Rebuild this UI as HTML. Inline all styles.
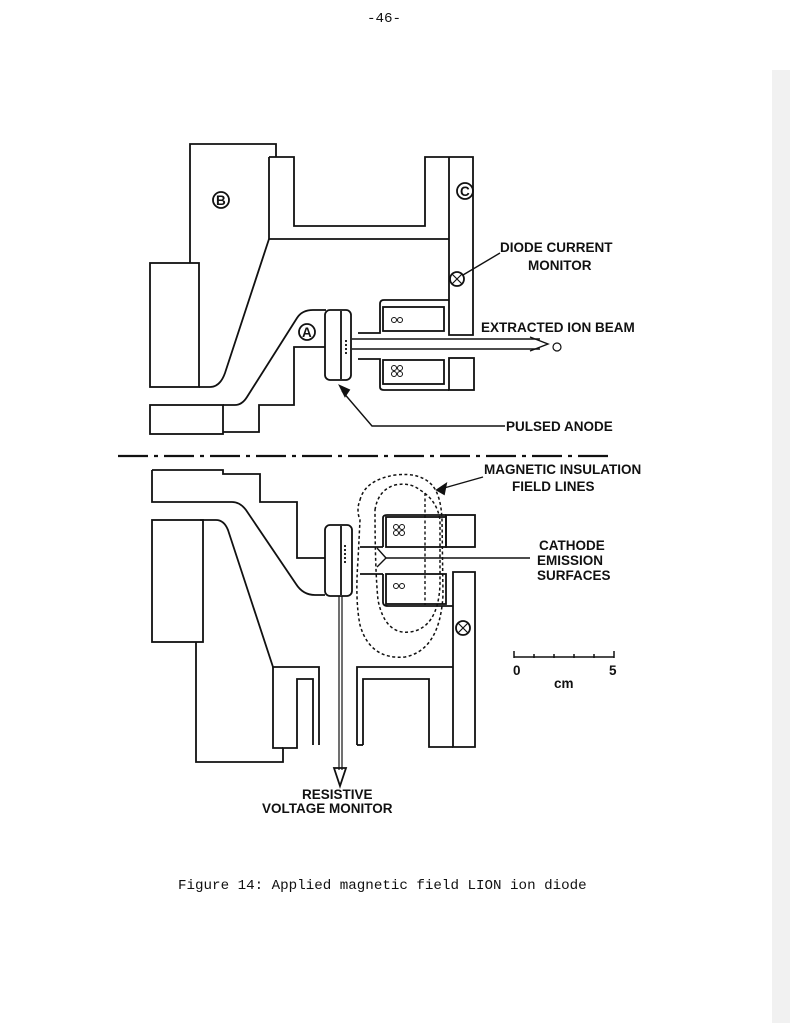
<!DOCTYPE html>
<html><head><meta charset="utf-8"><style>
html,body{margin:0;padding:0;background:#fff;}
svg{display:block;}
.l{font-family:"Liberation Sans",sans-serif;font-weight:bold;font-size:13.5px;fill:#111;}
.m{font-family:"Liberation Mono",monospace;font-size:14.2px;fill:#111;}
</style></head><body>
<svg width="790" height="1023" viewBox="0 0 790 1023" xmlns="http://www.w3.org/2000/svg">
<rect width="790" height="1023" fill="#fff"/>
<rect x="772" y="70" width="18" height="953" fill="#f1f1f1"/>
<text class="m" x="367" y="22">-46-</text>
<g fill="none" stroke="#111" stroke-width="1.8" stroke-linejoin="miter">
<path d="M190,263 V144 H276 V157"/>
<path d="M269,157 H294 V226 H425 V157 H473 V335 H449 V157"/>
<path d="M269,157 V239 H449"/>
<path d="M269,239 L225,373 Q220,387 210,387 H199"/>
<rect x="150" y="263" width="49" height="124"/>
<circle cx="221" cy="200" r="8"/>
<circle cx="465" cy="191" r="8"/>
<circle cx="457" cy="279" r="7"/>
<path d="M452,274 L462,284 M462,274 L452,284" stroke-width="1.2"/>
<rect x="150" y="405" width="73" height="29"/>
<path d="M223,405 H235 Q242,405 247,397 L297,318 Q302,310 313,310 H326"/>
<path d="M223,432 H259 V405 H294 V347 H325"/>
<circle cx="307" cy="332" r="8"/>
<rect x="325" y="310" width="26" height="70" rx="5"/>
<path d="M341,311 V379"/>
<path d="M346,340 V356" stroke-dasharray="2,2"/>
<path d="M358,333 H380 V304 Q380,300 384,300 H449"/>
<rect x="383" y="307" width="61" height="24"/>
<path d="M358,359 H380 V387 Q380,390 384,390 H449"/>
<rect x="383" y="360" width="61" height="24"/>
<rect x="449" y="358" width="25" height="32"/>
<path d="M352,339 H540 M352,349 H540" stroke-width="1.4"/>
<path d="M530,337 L548,344 L530,351" stroke-width="1.4"/>
<circle cx="557" cy="347" r="4" stroke-width="1.2"/>
<path d="M500,253 L463,275" stroke-width="1.4"/>
<path d="M342,391 L372,426 H505" stroke-width="1.4"/>
<path d="M340,386 L345,396 L349,390 Z" fill="#111"/>
<path d="M118,456 H612" stroke-width="2.2" stroke-dasharray="30,6,4,6"/>
<path d="M152,470 H223 V474 H260 V502 H297 V558 H325"/>
<path d="M152,470 V502 H232 Q240,502 246,510 L296,584 Q303,595 315,595 H325"/>
<rect x="152" y="520" width="51" height="122"/>
<path d="M200,520 H216 Q224,520 228,530 L273,667 H319 V745"/>
<path d="M196,642 V762 H283 V748 H297 V679 H313 V745"/>
<path d="M273,667 V748 H283"/>
<rect x="325" y="525" width="27" height="71" rx="5"/>
<path d="M341,526 V595"/>
<path d="M345,545 V565" stroke-dasharray="2,2"/>
<path d="M339,596 V770 M342,596 V770" stroke-width="1.2"/>
<path d="M334,768 L340,786 L346,768 Z"/>
<path d="M360,547 H383 M360,574 H383"/>
<path d="M383,547 V518 Q383,515 387,515 H446"/>
<rect x="386" y="517" width="60" height="30"/>
<rect x="446" y="515" width="29" height="32"/>
<rect x="386" y="574" width="60" height="30"/>
<path d="M383,574 V602 Q383,606 388,606 H453"/>
<path d="M453,572 H475 V747 H453 Z"/>
<path d="M357,745 V667 H453 M363,745 V679 H429 V747 H453"/>
<path d="M357,745 H363"/>
<circle cx="463" cy="628" r="7"/>
<path d="M458,623 L468,633 M468,623 L458,633" stroke-width="1.2"/>
<path d="M377,548 L386,558 L377,567" stroke-width="1.4"/>
<path d="M386,558 H530" stroke-width="1.4"/>
<path d="M375,510 Q378,490 395,485 Q410,482 420,490 Q437,500 440,520 L440,585 Q438,628 410,632 Q385,635 378,600 Q375,570 375,510 Z" stroke-dasharray="3,2.5" stroke-width="1.5"/>
<path d="M360,500 Q365,480 395,475 Q420,472 432,485 Q441,495 442,520 L443,595 Q440,650 405,657 Q370,660 360,625 Q355,600 358,560 L360,520 Q356,510 360,500 Z" stroke-dasharray="3,2.5" stroke-width="1.5"/>
<path d="M425,493 V605" stroke-dasharray="3,2.5" stroke-width="1.4"/>
<path d="M483,477 L437,490" stroke-width="1.4"/>
<path d="M437,490 L446,484 L444,494 Z" fill="#111"/>
<path d="M514,657 H614 M514,651 V658 M534,654 V658 M554,654 V658 M574,654 V658 M594,654 V658 M614,651 V658" stroke-width="1.5"/>
</g>
<g fill="none" stroke="#111" stroke-width="1">
<circle cx="394" cy="320" r="2.5"/><circle cx="400" cy="320" r="2.5"/>
<circle cx="394" cy="368" r="2.5"/><circle cx="400" cy="368" r="2.5"/>
<circle cx="394" cy="374" r="2.5"/><circle cx="400" cy="374" r="2.5"/>
<circle cx="396" cy="527" r="2.5"/><circle cx="402" cy="527" r="2.5"/>
<circle cx="396" cy="533" r="2.5"/><circle cx="402" cy="533" r="2.5"/>
<circle cx="396" cy="586" r="2.5"/><circle cx="402" cy="586" r="2.5"/>
</g>
<text class="l" x="500" y="252">DIODE CURRENT</text>
<text class="l" x="528" y="270">MONITOR</text>
<text class="l" x="481" y="332">EXTRACTED ION BEAM</text>
<text class="l" x="506" y="431">PULSED ANODE</text>
<text class="l" x="484" y="474">MAGNETIC INSULATION</text>
<text class="l" x="512" y="491">FIELD LINES</text>
<text class="l" x="539" y="550">CATHODE</text>
<text class="l" x="537" y="565">EMISSION</text>
<text class="l" x="537" y="580">SURFACES</text>
<text class="l" x="513" y="675">0</text>
<text class="l" x="609" y="675">5</text>
<text class="l" x="554" y="688">cm</text>
<text class="l" x="302" y="799">RESISTIVE</text>
<text class="l" x="262" y="813">VOLTAGE MONITOR</text>
<text class="l" x="216" y="205" font-size="9">B</text>
<text class="l" x="460" y="196" font-size="9">C</text>
<text class="l" x="302" y="337" font-size="9">A</text>
<text class="m" x="178" y="889">Figure 14:  Applied magnetic field LION ion diode</text>
</svg>
</body></html>
